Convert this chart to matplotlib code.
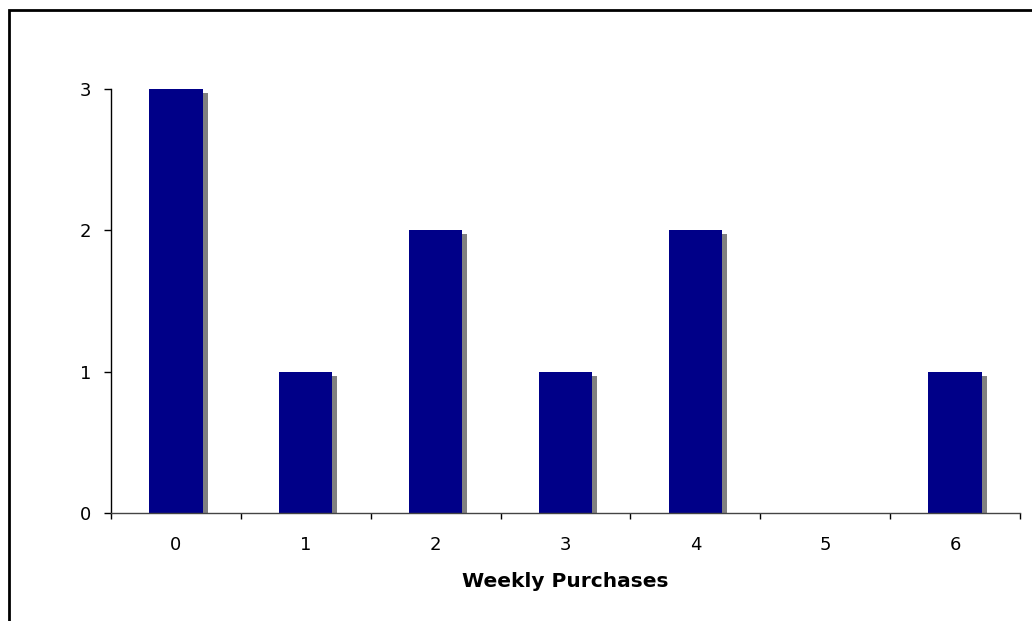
import matplotlib
matplotlib.use('agg')
import matplotlib.pyplot as plt
import matplotlib.patheffects as pe
from matplotlib.patches import Rectangle

purchases = ['0', '1', '2', '3', '4', '5', '6']
counts = [3, 1, 2, 1, 2, 0, 1]

fig = plt.figure(figsize=(10.32, 6.21), dpi=100)
W, H = 1032, 621

# outer chart frame
fig.patches.append(Rectangle((9 / W, -0.1), 1.2, 1 - 10 / H + 0.1,
                             transform=fig.transFigure, fill=False,
                             edgecolor='black', linewidth=2))

ax = fig.add_axes([111 / W, 1 - 513 / H, (1020 - 111) / W, (513 - 89) / H])

idx = range(len(purchases))
shadow = [pe.SimplePatchShadow(offset=(3.6, -2.9), shadow_rgbFace='#808080', alpha=1.0),
          pe.Normal()]
ax.bar(idx, counts, width=0.41, color='#000088', zorder=2, path_effects=shadow)

ax.set_xlim(-0.5, len(purchases) - 0.5)
ax.set_ylim(0, 3)

# category boundaries carry the tick marks, labels sit at the centres
ax.set_xticks([i - 0.5 for i in range(len(purchases) + 1)])
ax.set_xticklabels([])
ax.set_xticks(list(idx), minor=True)
ax.set_xticklabels(purchases, minor=True)
ax.tick_params(axis='x', which='major', direction='out', length=4.5, width=1, color='black')
ax.tick_params(axis='x', which='minor', length=0, pad=16.5, labelsize=13)
ax.set_yticks([0, 1, 2, 3])
ax.tick_params(axis='y', direction='out', length=5, width=1, pad=9, labelsize=13)

for s in ['top', 'right']:
    ax.spines[s].set_visible(False)
ax.spines['left'].set_linewidth(1)
ax.spines['bottom'].set_linewidth(1)
ax.spines['bottom'].set_color('#444444')
ax.spines['left'].set_zorder(3)
ax.spines['bottom'].set_zorder(3)

ax.set_xlabel('Weekly Purchases', fontsize=14.5, fontweight='bold', labelpad=13)

fig.savefig('out.png', dpi=100)
